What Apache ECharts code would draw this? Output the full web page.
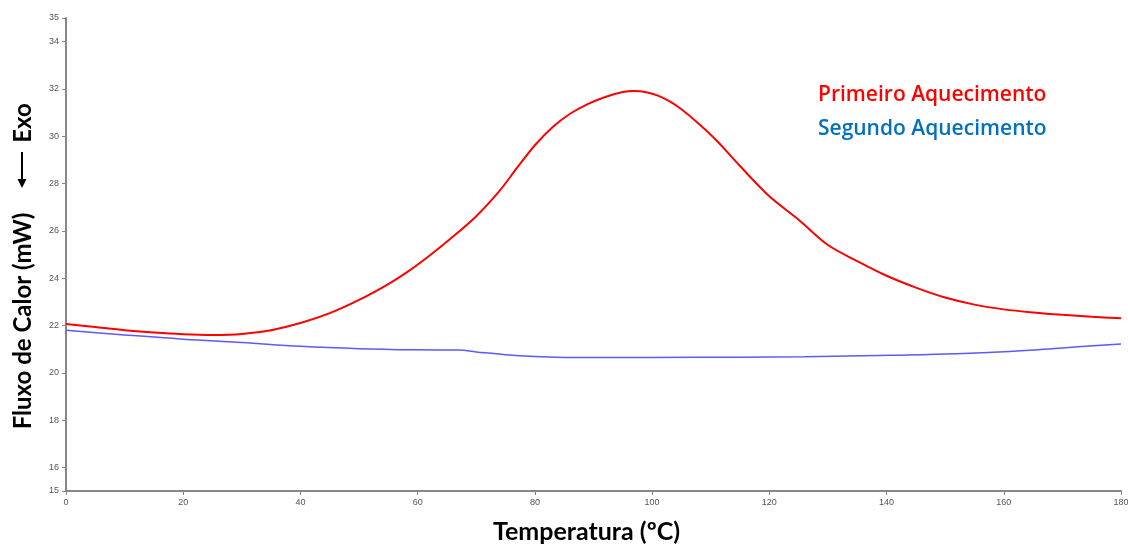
<!DOCTYPE html>
<html>
<head>
<meta charset="utf-8">
<script src="https://cdn.jsdelivr.net/npm/echarts@6/dist/echarts.min.js"></script>
<style>html,body{margin:0;padding:0;background:#fff}#c{width:1128px;height:547px}</style>
</head>
<body>
<div id="c"></div>
<script>
const temps1 = [0,5,10,15,20,25,30,35,40,45,50,55,58,62,66,70,74,77,80,83,86,89,92,95,97,99,101,103,105,108,111,115,120,125,130,135,140,145,150,155,160,165,170,175,180];
const primeiro = [22.06,21.93,21.8,21.7,21.63,21.6,21.64,21.8,22.1,22.52,23.08,23.75,24.22,24.95,25.75,26.62,27.7,28.68,29.62,30.38,30.95,31.36,31.66,31.87,31.91,31.86,31.72,31.47,31.14,30.52,29.82,28.74,27.46,26.47,25.4,24.72,24.1,23.6,23.18,22.88,22.68,22.55,22.45,22.37,22.3];
const temps2 = [0,10,20,30,40,50,60,67,70,75,80,86,100,115,126,141,152,161,170,180];
const segundo = [21.8,21.6,21.42,21.28,21.12,21.02,20.97,20.96,20.88,20.76,20.69,20.65,20.65,20.66,20.68,20.74,20.8,20.9,21.05,21.22];
const yTicks = [15,16,18,20,22,24,26,28,30,32,34,35];
const xTicks = [0,20,40,60,80,100,120,140,160,180];

const chart = echarts.init(document.getElementById('c'));
const pair = (xs, ys) => xs.map((x, i) => [x, ys[i]]);
const titleFont = 'Lato';
chart.setOption({
  animation: false,
  grid: {left: 66, right: 7, top: 18, bottom: 56, containLabel: false, outerBoundsMode: 'none'},
  legend: {
    orient: 'vertical', left: 808, top: 78, icon: 'none', itemWidth: 0, itemHeight: 14, itemGap: 9,
    selectedMode: false,
    textStyle: {fontFamily: 'Open Sans', fontSize: 21, fontWeight: 600, lineHeight: 25},
    data: [
      {name: 'Primeiro Aquecimento', textStyle: {color: '#ff0000'}},
      {name: 'Segundo Aquecimento', textStyle: {color: '#0070c0'}}
    ]
  },
  xAxis: {
    type: 'value', min: 0, max: 180, interval: 20,
    name: 'Temperatura (ºC)', nameLocation: 'middle', nameGap: 28,
    nameTextStyle: {fontFamily: titleFont, fontSize: 25, fontWeight: 'bold', color: '#000', padding: [0, 14, 0, 0]},
    axisLine: {show: true, lineStyle: {color: '#878787', width: 2}},
    axisTick: {show: true, length: 4, lineStyle: {color: '#878787'}},
    axisLabel: {fontFamily: 'Liberation Sans', fontSize: 9, color: '#555', margin: 7},
    splitLine: {show: false}
  },
  yAxis: {
    type: 'value', min: 15, max: 35,
    axisLine: {show: true, onZero: false, lineStyle: {color: '#878787', width: 2}},
    axisTick: {show: true, length: 4, customValues: yTicks, lineStyle: {color: '#878787'}},
    axisLabel: {fontFamily: 'Liberation Sans', fontSize: 9, color: '#555', margin: 7, customValues: yTicks},
    splitLine: {show: false}
  },
  graphic: [
    {type: 'text', x: 23, y: 321, rotation: Math.PI / 2,
     style: {text: 'Fluxo de Calor (mW)', fontFamily: titleFont, fontSize: 24, fontWeight: 'bold', fill: '#000', align: 'center', verticalAlign: 'middle'}},
    {type: 'text', x: 23, y: 123, rotation: Math.PI / 2,
     style: {text: 'Exo', fontFamily: titleFont, fontSize: 24, fontWeight: 'bold', fill: '#000', align: 'center', verticalAlign: 'middle'}},
    {type: 'line', shape: {x1: 22, y1: 152, x2: 22, y2: 181}, style: {stroke: '#000', lineWidth: 2}},
    {type: 'polygon', shape: {points: [[17.5, 179], [26.5, 179], [22, 188]]}, style: {fill: '#000'}}
  ],
  series: [
    {name: 'Primeiro Aquecimento', type: 'line', data: pair(temps1, primeiro), smooth: 0.3, showSymbol: false,
     lineStyle: {color: '#ff0000', width: 2}, itemStyle: {color: '#ff0000'}},
    {name: 'Segundo Aquecimento', type: 'line', data: pair(temps2, segundo), smooth: 0.4, showSymbol: false,
     lineStyle: {color: '#5a5aff', width: 1.5}, itemStyle: {color: '#5a5aff'}}
  ]
});
</script>
</body>
</html>
